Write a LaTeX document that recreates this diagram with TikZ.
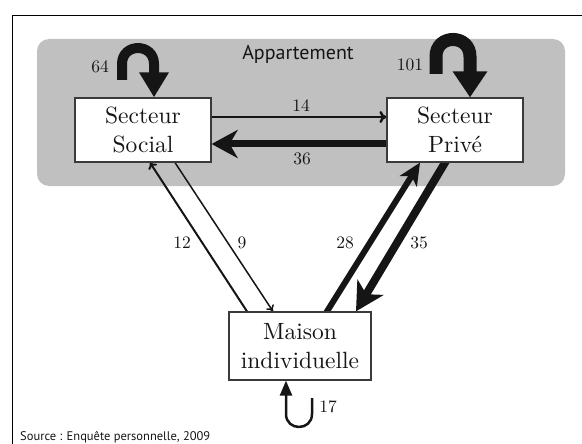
\documentclass[tikz,border=0pt]{standalone}
\usepackage{fontspec}
\usetikzlibrary{arrows.meta, calc, backgrounds}
\newfontfamily\labelsans{PT Sans}
\newfontfamily\boxserif[Extension=.otf]{lmroman10-regular}
\definecolor{aptgray}{HTML}{C0C0C0}
\definecolor{boxline}{HTML}{3A3A3A}
\definecolor{ink}{HTML}{151515}

\begin{document}
\begin{tikzpicture}[x=1pt, y=-1pt,
  box/.style={draw=boxline, fill=white, line width=1.2pt, align=center,
    text=ink, inner sep=0pt, font=\boxserif\fontsize{23.5}{29}\selectfont},
  num/.style={text=ink, inner sep=0pt, font=\boxserif\fontsize{17.5}{20}\selectfont},
  flow/.style={draw=ink, line cap=butt}]

\useasboundingbox (0,0) rectangle (582,444);

% Frame (only top and left visible)
\draw[black, line width=1.3pt] (12.7,444) -- (12.7,15.5) -- (582,15.5);

% Boxes
\node[box, minimum width=136pt, minimum height=64pt] (social) at (143,130)
  {Secteur\\Social};
\node[box, minimum width=136pt, minimum height=64pt] (prive) at (455,130)
  {Secteur\\Priv\'e};
\node[box, minimum width=142pt, minimum height=68pt] (maison) at (300,346)
  {Maison\\individuelle};

% Titles
\node[text=ink, font=\labelsans\fontsize{20}{22}\selectfont] (appart) at (298,54)
  {Appartement};
\node[text=ink, anchor=west, inner sep=0pt,
      font=\labelsans\fontsize{12.5}{14}\selectfont] (source) at (20,437)
  {Source : Enquête personnelle, 2009};

% Flow values
\node[num] (n64) at (100,67) {64};
\node[num] (n101) at (410,65) {101};
\node[num] (n14) at (301,106) {14};
\node[num] (n36) at (302,159) {36};
\node[num] (n12) at (182,243) {12};
\node[num] (n9) at (242,243) {9};
\node[num] (n28) at (345,243) {28};
\node[num] (n35) at (419,243) {35};
\node[num] (n17) at (328,407) {17};

% Ends of the connectors on the boxes
\coordinate (s12) at ($(social.south)+(7,0)$);
\coordinate (m12) at ($(maison.north)+(-53,0)$);
\coordinate (s9) at ($(social.south)+(32,0)$);
\coordinate (m9) at ($(maison.north)+(-27,0)$);
\coordinate (p28) at ($(prive.south)+(-35,0)$);
\coordinate (m28) at ($(maison.north)+(27,0)$);
\coordinate (p35) at ($(prive.south)+(-10,0)$);
\coordinate (m35) at ($(maison.north)+(56,0)$);
\coordinate (loopS) at (122,80);
\coordinate (loopP) at (436,74);
\coordinate (loopM) at (312,398);

\begin{scope}[on background layer]
% Appartement area
\fill[aptgray, rounded corners=12pt] (37,39) rectangle (565,186);

% Secteur Social <-> Secteur Prive
\draw[flow, line width=2.5pt, -{To[length=7pt, width=12pt]}]
  ($(social.east)+(-4,-13)$) -- ($(prive.west)+(0,-13)$);
\draw[flow, line width=7pt, -{Stealth[length=26pt, width=28pt, inset=8pt]}]
  ($(prive.east)+(-20,14)$) -- ($(social.east)+(0,14)$);

% Secteur Social <-> Maison individuelle
\draw[flow, line width=2pt, -{To[length=6pt, width=10pt]}]
  ($(m12)!-8pt!(s12)$) -- (s12);
\draw[flow, line width=1.5pt, -{To[length=6pt, width=9pt]}]
  ($(s9)!-8pt!(m9)$) -- (m9);

% Secteur Prive <-> Maison individuelle
\draw[flow, line width=6pt, -{Stealth[length=22pt, width=20pt, inset=6pt]}]
  ($(m28)!-8pt!(p28)$) -- (p28);
\draw[flow, line width=8pt, -{Stealth[length=28pt, width=30pt, inset=8pt]}]
  ($(p35)!-8pt!(m35)$) -- (m35);

% Loops
\draw[flow, line width=10pt, -{Triangle[length=25pt, width=28pt]}]
  (loopS) -- (122,64) .. controls (122,42.7) and (154,42.7) .. (154,64)
  -- ($(social.north)+(11,0)$);
\draw[flow, line width=13pt, -{Triangle[length=26pt, width=33pt]}]
  (loopP) -- (436,56.5) .. controls (436,33.8) and (470,33.8) .. (470,56.5)
  -- ($(prive.north)+(15,0)$);
\draw[flow, line width=2.5pt, -{Triangle[length=15pt, width=12pt]}]
  (loopM) -- (312,414) .. controls (312,431.3) and (286,431.3) .. (286,414)
  -- ($(maison.south)+(-14,0)$);
\end{scope}

\end{tikzpicture}
\end{document}
